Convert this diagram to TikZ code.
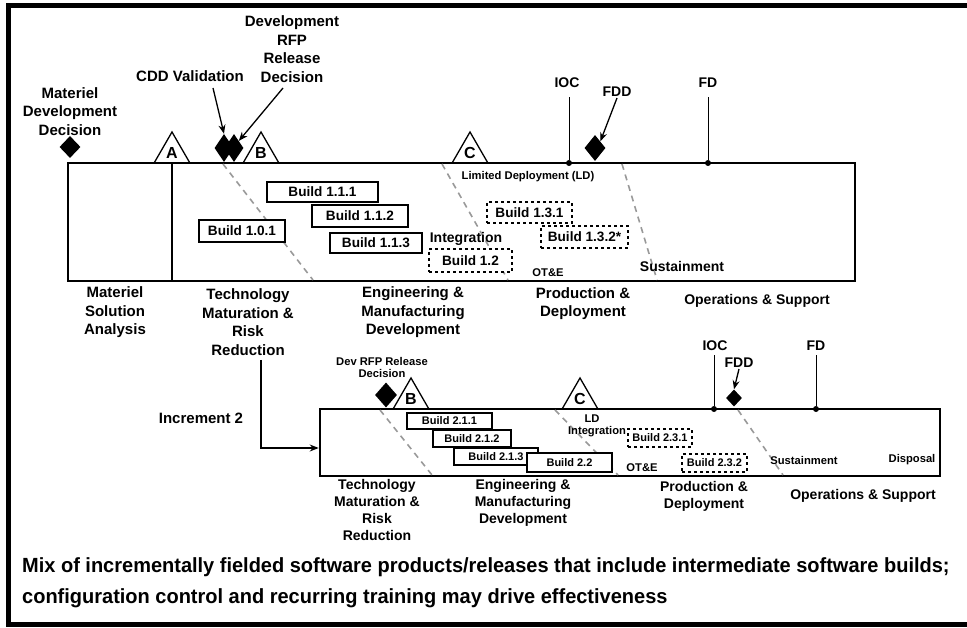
\documentclass[tikz,border=0pt]{standalone}
\usepackage{fontspec}
\setmainfont{Liberation Sans}
\newfontfamily\captionfont[FakeStretch=0.975]{Liberation Sans}
\usepackage{tikz}
\usetikzlibrary{arrows.meta,positioning,calc,shapes.geometric}

\begin{document}
\begin{tikzpicture}[x=1pt, y=-1pt,
  phase/.style={align=center, inner sep=1pt, font=\fontsize{15}{18.5}\selectfont\bfseries},
  phasesm/.style={align=center, inner sep=1pt, font=\fontsize{14}{17}\selectfont\bfseries},
  note/.style={align=center, inner sep=1pt, font=\fontsize{11.2}{12}\selectfont\bfseries},
  bld/.style={draw, fill=white, line width=1.3pt, inner sep=0pt, font=\fontsize{13.6}{15}\selectfont\bfseries},
  bldsm/.style={bld, line width=1.1pt, font=\fontsize{11}{12}\selectfont\bfseries},
  gate/.style={draw, line width=1.3pt, regular polygon, regular polygon sides=3, minimum size=41pt, inner sep=0pt, font=\fontsize{16}{16}\selectfont\bfseries},
  ms/.style={diamond, fill=black, inner sep=0pt},
  msdot/.style={circle, fill=black, inner sep=0pt, minimum size=6pt},
  lc/.style={draw, line width=2.6pt, inner sep=0pt},
  arr/.style={-{Stealth[length=9pt,width=7pt]}, line width=1.3pt},
  divider/.style={black!40, line width=1.6pt, dash pattern=on 6pt off 5pt},
  capline/.style={anchor=west, inner sep=0pt, font=\captionfont\fontsize{20.5}{24}\selectfont\bfseries}
]
  \useasboundingbox (0,0) rectangle (967,628);
  \draw[line width=5pt, line join=miter] (990,5.5) -- (8,5.5) -- (8,624.5) -- (990,624.5);

  % increment 1
  \node[lc, minimum width=787pt, minimum height=118pt] (lc1) at (461.5,222) {};
  \node[gate] (ga) at (172,152.5) {A};
  \node[gate] (gb) at (261,152.5) {B};
  \node[gate] (gc) at (470,152.5) {C};
  \draw[line width=1.3pt] (ga.south) -- (ga.south |- lc1.south);

  \draw[divider] (223,164) -- (313,280);
  \draw[divider] (442,164) -- (508,280);
  \draw[divider] (622,164) -- (657,280);

  \node[phase] (mddl) at (70,111.5) {Materiel\\Development\\Decision};
  \node[ms, minimum width=21pt, minimum height=22pt] (mdd) at (70,147) {};
  \node[phase] (cddl) at (190,76) {CDD Validation};
  \node[phase] (rfpl) at (292,49) {Development\\RFP\\Release\\Decision};
  \node[ms, minimum width=19pt, minimum height=28pt] (cdd) at (224,148) {};
  \node[ms, minimum width=19pt, minimum height=28pt] (rfp) at (234,148) {};
  \coordinate (cddtail) at (213,88);
  \coordinate (rfptail) at (283,88);
  \draw[arr] (cddtail) -- (cdd.north);
  \draw[arr] (rfptail) -- (rfp.north east);

  \node[msdot] (iocd) at (569,163) {};
  \node[phasesm] (iocl) at (567,83) {IOC};
  \draw[line width=0.9pt] (iocd) -- ++(0,-66);
  \node[phasesm] (fddl) at (617,92) {FDD};
  \node[ms, minimum width=21pt, minimum height=26pt] (fdd) at (595,148) {};
  \draw[arr] (fddl.south) -- (fdd.north east);
  \node[msdot] (fdd) at (708,163) {};
  \node[phasesm] (fdl) at (708,83) {FD};
  \draw[line width=0.9pt] (fdd) -- ++(0,-66);

  \node[bld, minimum width=86pt, minimum height=22pt] (b101) at (242,231) {Build 1.0.1};
  \node[bld, minimum width=111pt, minimum height=20pt] (b111) at (322.5,192) {Build 1.1.1};
  \node[bld, minimum width=96pt, minimum height=22pt] (b112) at (360,216) {Build 1.1.2};
  \node[bld, minimum width=92pt, minimum height=20pt] (b113) at (376,243) {Build 1.1.3};
  \node[bld, dashed, minimum width=83pt, minimum height=23pt] (b12) at (470.5,260.5) {Build 1.2};
  \node[bld, dashed, minimum width=85pt, minimum height=21pt] (b131) at (529.5,212.5) {Build 1.3.1};
  \node[bld, dashed, minimum width=87pt, minimum height=22pt] (b132) at (584.5,237) {Build 1.3.2*};

  \node[phasesm] (int1) at (466,239) {Integration};
  \node[note] (ld1) at (528,177) {Limited Deployment (LD)};
  \node[note] (ote1) at (548,273) {OT\&E};
  \node[phasesm] (sus1) at (682,266) {Sustainment};

  \node[phase] (msa) at (115,312.5) {Materiel\\Solution\\Analysis};
  \node[phase] (tmrr) at (248,322) {Technology\\Maturation \&\\Risk\\Reduction};
  \node[phase] (emd) at (413,312.5) {Engineering \&\\Manufacturing\\Development};
  \node[phase] (pd) at (583,303.5) {Production \&\\Deployment};
  \node[phasesm] (os) at (757,301) {Operations \& Support};

  % increment 2
  \node[lc, minimum width=620pt, minimum height=67pt] (lc2) at (630,442.5) {};
  \node[phase] (inc2) at (201,418) {Increment 2};
  \coordinate (inctail) at (261,360);
  \coordinate (incin) at (lc2.west |- 0,448);
  \draw[arr] (inctail) |- (incin);

  \node[gate] (gb2) at (411,398.5) {B};
  \node[gate] (gc2) at (580,398.5) {C};

  \draw[divider] (380,410) -- (432,475);
  \draw[divider] (555,410) -- (618,475);
  \draw[divider] (738,410) -- (783,475);

  \node[note] (rfpl2) at (382,367) {Dev RFP Release\\Decision};
  \node[ms, minimum width=22pt, minimum height=25pt] (rfp2) at (386,395) {};

  \node[msdot] (iocd2) at (714,409) {};
  \node[phasesm] (iocl2) at (715,346) {IOC};
  \draw[line width=0.9pt] (iocd2) -- ++(0,-54);
  \node[phasesm] (fddl2) at (739,363) {FDD};
  \node[ms, minimum width=16pt, minimum height=17pt] (fdd2) at (734,398) {};
  \draw[arr] (fddl2.south) -- (fdd2.north);
  \node[msdot] (fdd2dot) at (816,409) {};
  \node[phasesm] (fdl2) at (816,346) {FD};
  \draw[line width=0.9pt] (fdd2dot) -- ++(0,-54);

  \node[bldsm, minimum width=85pt, minimum height=16pt] (b211) at (449.5,421) {Build 2.1.1};
  \node[bldsm, minimum width=78pt, minimum height=17pt] (b212) at (472,438.5) {Build 2.1.2};
  \node[bldsm, minimum width=84pt, minimum height=17pt] (b213) at (496,456.5) {Build 2.1.3};
  \node[bldsm, minimum width=85pt, minimum height=19pt] (b22) at (569.5,462.5) {Build 2.2};
  \node[bldsm, dashed, minimum width=64pt, minimum height=18pt] (b231) at (660,438) {Build 2.3.1};
  \node[bldsm, dashed, minimum width=65pt, minimum height=18pt] (b232) at (714.5,463) {Build 2.3.2};

  \node[note] (ld2) at (592,419) {LD};
  \node[note] (int2) at (597,432) {Integration};
  \node[note] (ote2) at (642,468) {OT\&E};
  \node[note] (sus2) at (804,460) {Sustainment};
  \node[note] (disp) at (912,460) {Disposal};

  \node[phasesm] (tmrr2) at (377,509.5) {Technology\\Maturation \&\\Risk\\Reduction};
  \node[phasesm] (emd2) at (523,503) {Engineering \&\\Manufacturing\\Development};
  \node[phasesm] (pd2) at (704,496.5) {Production \&\\Deployment};
  \node[phasesm] (os2) at (863,496) {Operations \& Support};

  % caption
  \node[capline] (cap1) at (22,567) {Mix of incrementally fielded software products/releases that include intermediate software builds;};
  \node[capline] (cap2) at (22,598) {configuration control and recurring training may drive effectiveness};
\end{tikzpicture}
\end{document}
